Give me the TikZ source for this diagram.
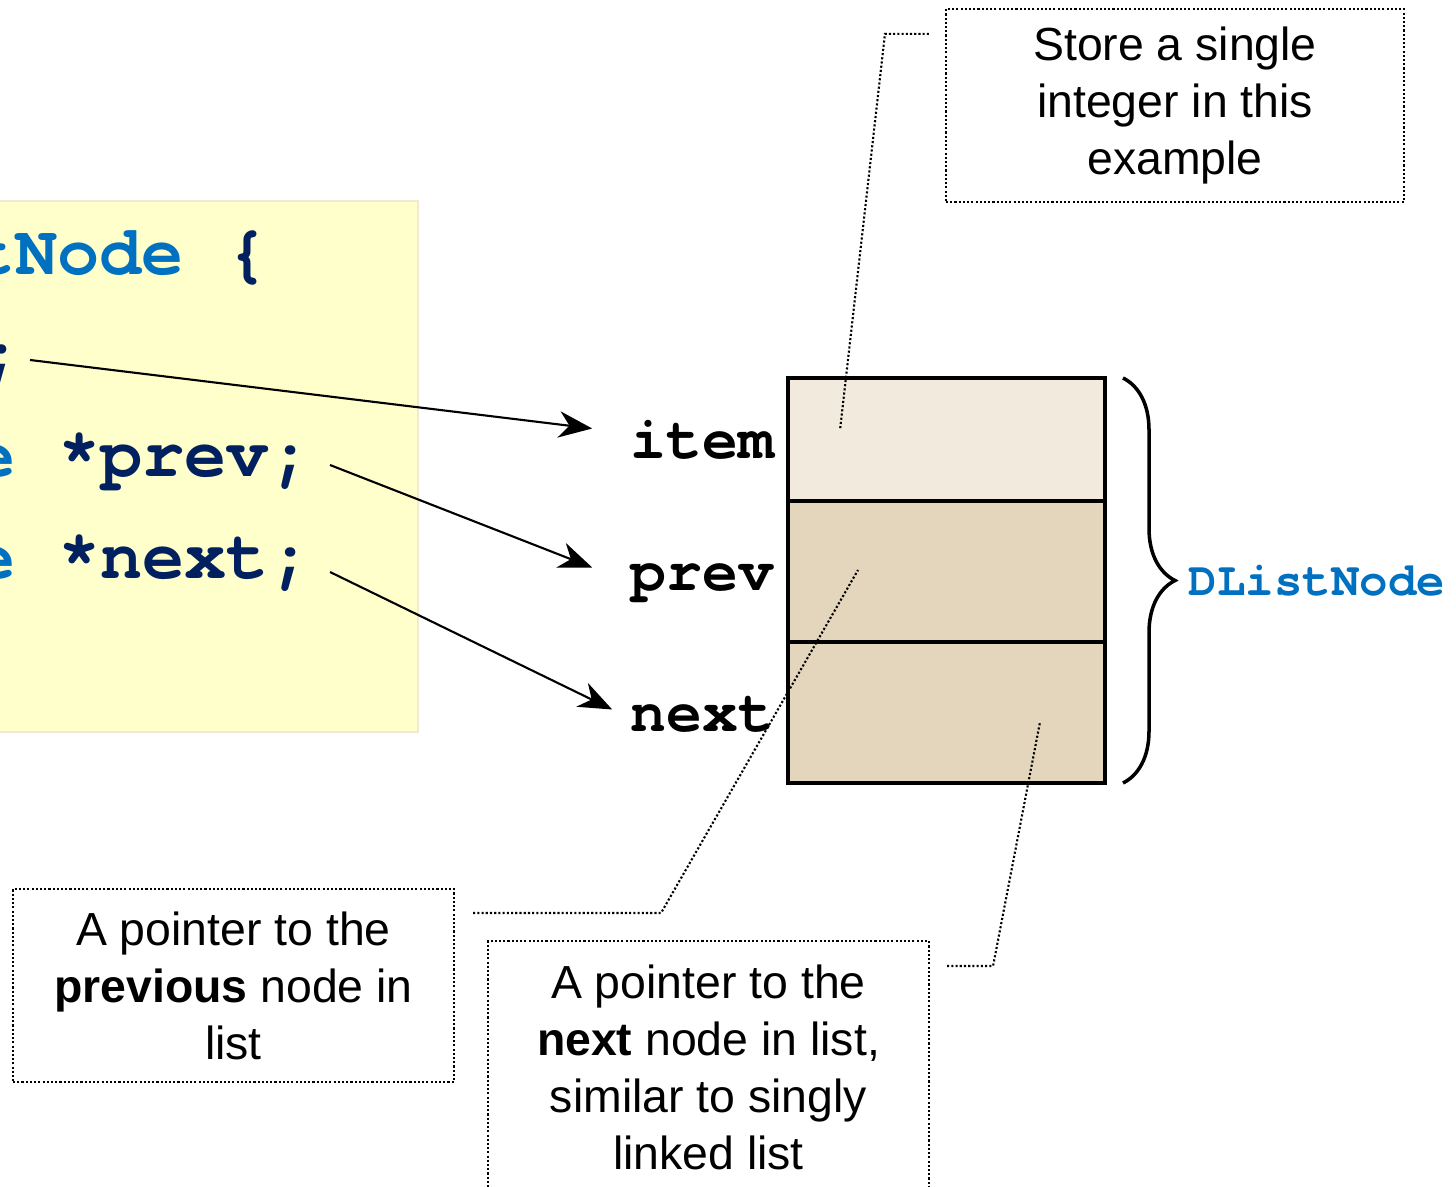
\documentclass[tikz,border=0pt]{standalone}
\usepackage{fontspec}
\setmainfont{Liberation Sans}
\newfontfamily\codefont{TeX Gyre Cursor}
\usetikzlibrary{positioning,arrows.meta,decorations.pathreplacing}

\definecolor{codeblue}{RGB}{0,112,192}
\definecolor{codenavy}{RGB}{0,32,96}
\definecolor{codebg}{RGB}{255,255,204}
\definecolor{codeedge}{RGB}{242,232,214}
\definecolor{celllight}{RGB}{242,234,221}
\definecolor{celldark}{RGB}{228,214,188}

\tikzset{
  codeline/.style={anchor=base east, inner sep=0pt, text=codenavy,
    font=\codefont\bfseries\fontsize{20}{24}\selectfont},
  field/.style={inner sep=0pt, text height=0.62em, text depth=0.2em, yshift=-0.12cm,
    font=\codefont\bfseries\fontsize{17}{20}\selectfont},
  cell/.style={draw, line width=0.9pt, outer sep=0pt, minimum width=3.17cm},
  callout/.style={draw, line width=0.6pt, dash pattern=on 0.6pt off 0.6pt,
    align=center, minimum width=4.41cm, font=\fontsize{13.2}{16.2}\selectfont},
  leader/.style={line width=0.6pt, dash pattern=on 0.6pt off 0.6pt},
  ptr/.style={-{Stealth[length=9.5pt,width=7.5pt,inset=3pt]}, line width=0.6pt}
}

\begin{document}
\begin{tikzpicture}
    \useasboundingbox (0,0) rectangle (14.56,11.86);
    \clip (0,0) rectangle (14.56,11.86);
    % struct declaration
    \draw[fill=codebg, draw=codeedge, line width=0.6pt] (-0.3,4.54) rectangle (4.18,9.85);
    \node[codeline] (codehead) at (2.69,9.11) {struct \textcolor{codeblue}{DListNode} \{};
    \node[codeline] (codeitem) at (0.23,8.10) {\textcolor{codeblue}{int} item;};
    \node[codeline] (codeprev) at (3.12,7.09) {\textcolor{codeblue}{DListNode} *prev;};
    \node[codeline] (codenext) at (3.12,6.08) {\textcolor{codeblue}{DListNode} *next;};
    % the node in memory
    \node[cell, fill=celllight, minimum height=1.23cm] (itemcell) at (9.465,7.465) {};
    \node[cell, fill=celldark, minimum height=1.41cm, below=0pt of itemcell] (prevcell) {};
    \node[cell, fill=celldark, minimum height=1.41cm, below=0pt of prevcell] (nextcell) {};
    \node[field, left=0.13cm of itemcell] (itemlbl) {item};
    \node[field, left=0.13cm of prevcell] (prevlbl) {prev};
    \node[field, left=0.13cm of nextcell] (nextlbl) {next};
    \draw[ptr] ([shift={(0.07,0.16)}]codeitem.base east) -- ([shift={(-0.38,0.23)}]itemlbl.west);
    \draw[ptr] ([shift={(0.18,0.12)}]codeprev.base east) -- ([shift={(-0.38,0.16)}]prevlbl.west);
    \draw[ptr] ([shift={(0.18,0.06)}]codenext.base east) -- ([shift={(-0.18,0.15)}]nextlbl.west);
    \draw[line width=1pt, decorate, decoration={brace, amplitude=0.52cm}]
        ([xshift=0.18cm]itemcell.north east) --
        node[right=0.64cm, inner sep=0pt, text=codeblue,
             font=\codefont\bfseries\fontsize{13.5}{16}\selectfont] (typename) {DListNode}
        ([xshift=0.18cm]nextcell.south east);
    % notes
    \node[callout, minimum width=4.58cm, minimum height=1.93cm] (storenote) at (11.75,10.805)
        {Store a single\\integer in this\\example};
    \node[callout, minimum height=1.93cm] (prevnote) at (2.335,2.005)
        {A pointer to the\\\textbf{previous} node in\\list};
    \node[callout, minimum height=2.53cm] (nextnote) at (7.085,1.185)
        {A pointer to the\\\textbf{next} node in list,\\similar to singly\\linked list};
    \coordinate (itemspot) at (8.40,7.56);
    \coordinate (prevspot) at (8.58,6.16);
    \coordinate (nextspot) at (10.40,4.64);
    \draw[leader] ([shift={(-0.16,-0.26)}]storenote.north west) -- ++(-0.44,0) -- (itemspot);
    \draw[leader] ([shift={(0.18,-0.25)}]prevnote.north east) -- ++(1.88,0) -- (prevspot);
    \draw[leader] ([shift={(0.17,-0.26)}]nextnote.north east) -- ++(0.46,0) -- (nextspot);
\end{tikzpicture}
\end{document}
